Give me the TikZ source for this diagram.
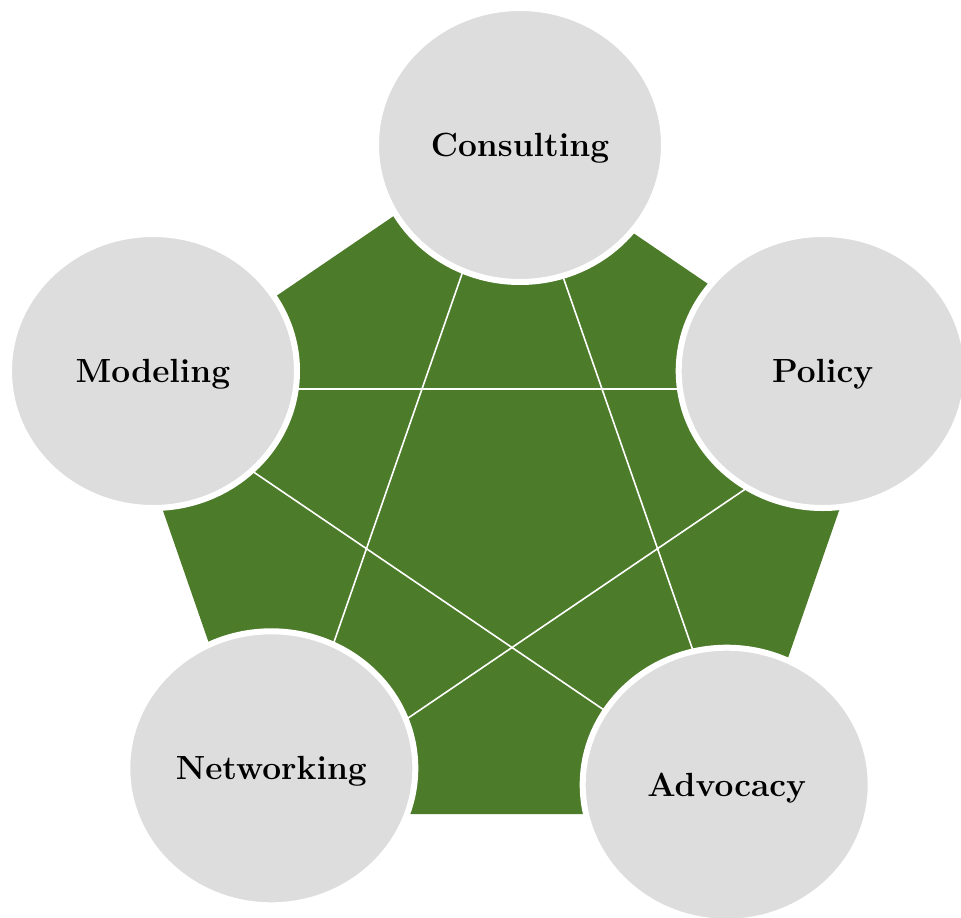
\documentclass[tikz,border=0pt]{standalone}
\usepackage{fontspec}
\usetikzlibrary{shapes.geometric}
\definecolor{leafgreen}{RGB}{76,123,41}
\definecolor{discgray}{RGB}{221,221,221}
\newcommand{\discfont}{\fontsize{33.5}{40}\selectfont\bfseries\addfontfeature{FakeBold=2}}
\begin{document}
\begin{tikzpicture}[x=1pt,y=-1pt,
  disc/.style={ellipse, fill=discgray, draw=white, line width=6pt,
    minimum width=288pt, minimum height=274pt, inner sep=0pt,
    font=\discfont, text=black,
    text height=22.8pt, text depth=0pt},
  starline/.style={draw=white, line width=1.6pt}]
\useasboundingbox (0,0) rectangle (961,918);

% green pentagon backdrop
\fill[leafgreen] (501,143) -- (877.6,399.4) -- (733.8,814.1)
  -- (268.2,814.1) -- (124.4,399.4) -- cycle;

% tips of the white pentagram
\coordinate (sT)  at (512,130.1);
\coordinate (sR)  at (893,388.8);
\coordinate (sBR) at (747.5,807.4);
\coordinate (sBL) at (276.5,807.4);
\coordinate (sL)  at (131,388.8);
\draw[starline] (sT) -- (sBL);
\draw[starline] (sT) -- (sBR);
\draw[starline] (sL) -- (sR);
\draw[starline] (sL) -- (sBR);
\draw[starline] (sR) -- (sBL);

% the five discs
\node[disc] (consulting) at (520,145)   {Consulting};
\node[disc] (policy)     at (822.7,371) {Policy};
\node[disc] (advocacy)   at (726.7,784.7) {Advocacy};
\node[disc] (networking) at (271.3,768.3) {Networking};
\node[disc] (modeling)   at (153,371)   {Modeling};
\end{tikzpicture}
\end{document}
